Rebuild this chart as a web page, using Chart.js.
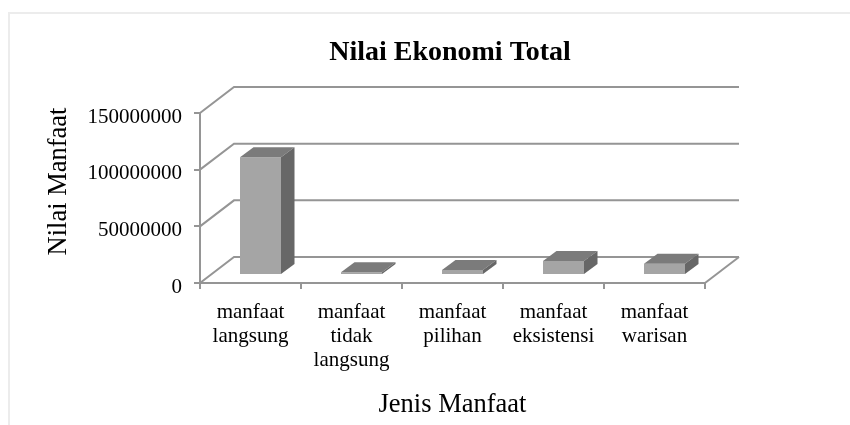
<!DOCTYPE html>
<html>
<head>
<meta charset="utf-8">
<script src="https://cdn.jsdelivr.net/npm/chart.js@4"></script>
<style>
  html, body { margin: 0; padding: 0; background: #fff; }
  #wrap { position: relative; width: 850px; height: 425px; overflow: hidden; }
  #frame { position: absolute; left: 8px; top: 12px; width: 900px; height: 500px; border: 2px solid #ececec; }
  canvas { position: absolute; left: 0; top: 0; }
</style>
</head>
<body>
<div id="wrap">
  <div id="frame"></div>
  <canvas id="chart" width="850" height="425"></canvas>
</div>
<script>
const categories = [
    ['manfaat', 'langsung'],
    ['manfaat', 'tidak', 'langsung'],
    ['manfaat', 'pilihan'],
    ['manfaat', 'eksistensi'],
    ['manfaat', 'warisan']
];
const nilaiManfaat = [104000000, 2400000, 4400000, 12400000, 10000000];
const yTicks = [0, 50000000, 100000000, 150000000];

const chartTitle = 'Nilai Ekonomi Total';
const xTitle = 'Jenis Manfaat';
const yTitle = 'Nilai Manfaat';

const serif = '"Liberation Serif", "Times New Roman", serif';
const lineColor = '#959595';

// depth of the fake 3D box
const wallDx = 34, wallDy = -26;
const barShiftX = 10, barShiftY = -8;
const barDx = 13.5, barDy = -10;

const fake3d = {
    id: 'fake3d',
    afterLayout(chart) {
        // title is a little left of the plot centre in the original
        chart.titleBlock.left -= 2.5;
        chart.titleBlock.right -= 2.5;
    },
    beforeDatasetsDraw(chart) {
        const { ctx, chartArea, scales } = chart;
        ctx.save();
        ctx.strokeStyle = lineColor;
        ctx.lineWidth = 2;
        // walls
        scales.y.ticks.forEach(t => {
            const y = scales.y.getPixelForValue(t.value);
            ctx.beginPath();
            ctx.moveTo(chartArea.left, y);
            ctx.lineTo(chartArea.left + wallDx, y + wallDy);
            ctx.lineTo(chartArea.right + wallDx, y + wallDy);
            ctx.stroke();
        });
        // floor right edge
        ctx.beginPath();
        ctx.moveTo(chartArea.right, chartArea.bottom);
        ctx.lineTo(chartArea.right + wallDx, chartArea.bottom + wallDy);
        ctx.stroke();
        ctx.restore();

        // bars are drawn by the library, just moved back off the front edge
        ctx.save();
        ctx.translate(barShiftX, barShiftY);
    },
    afterDatasetsDraw(chart) {
        const { ctx } = chart;
        chart.getDatasetMeta(0).data.forEach(bar => {
            const p = bar.getProps(['x', 'y', 'base', 'width'], true);
            const l = p.x - p.width / 2, r = p.x + p.width / 2;
            // top face
            ctx.fillStyle = '#7b7b7b';
            ctx.beginPath();
            ctx.moveTo(l, p.y);
            ctx.lineTo(l + barDx, p.y + barDy);
            ctx.lineTo(r + barDx, p.y + barDy);
            ctx.lineTo(r, p.y);
            ctx.closePath();
            ctx.fill();
            // side face
            ctx.fillStyle = '#676767';
            ctx.beginPath();
            ctx.moveTo(r, p.y);
            ctx.lineTo(r + barDx, p.y + barDy);
            ctx.lineTo(r + barDx, p.base + barDy);
            ctx.lineTo(r, p.base);
            ctx.closePath();
            ctx.fill();
        });
        ctx.restore();
    },
    afterDraw(chart) {
        // y title sits higher than the axis centre in the original
        const { ctx } = chart;
        ctx.save();
        ctx.translate(59, 181.5);
        ctx.rotate(-Math.PI / 2);
        ctx.font = '26.5px ' + serif;
        ctx.fillStyle = '#000';
        ctx.textAlign = 'center';
        ctx.textBaseline = 'middle';
        ctx.fillText(yTitle, 0, 0);
        ctx.restore();
    }
};

new Chart(document.getElementById('chart').getContext('2d'), {
    type: 'bar',
    data: {
        labels: categories,
        datasets: [{
            label: yTitle,
            data: nilaiManfaat,
            backgroundColor: '#a5a5a5',
            barPercentage: 0.406,
            categoryPercentage: 1
        }]
    },
    options: {
        responsive: false,
        animation: false,
        layout: { padding: { top: 0, right: 145, bottom: 0, left: 0 } },
        plugins: {
            legend: { display: false },
            tooltip: { enabled: false },
            title: {
                display: true,
                text: chartTitle,
                fullSize: false,
                color: '#000',
                font: { family: serif, size: 28, weight: 'bold' },
                padding: { top: 36, bottom: 43.4 }
            }
        },
        scales: {
            x: {
                grid: { drawOnChartArea: false, color: lineColor, lineWidth: 2, tickLength: 6 },
                border: { color: lineColor, width: 2 },
                ticks: { color: '#000', font: { family: serif, size: 21, lineHeight: 1.16 }, maxRotation: 0, autoSkip: false, padding: 11 },
                title: { display: true, text: xTitle, color: '#000', font: { family: serif, size: 26.5 }, padding: { top: 4, bottom: 4 } },
                afterFit(scale) { scale.height = 142; }
            },
            y: {
                min: 0,
                max: 150000000,
                afterBuildTicks(scale) { scale.ticks = yTicks.map(v => ({ value: v })); },
                grid: { drawOnChartArea: false, color: lineColor, lineWidth: 2, tickLength: 6 },
                border: { color: lineColor, width: 2 },
                ticks: { color: '#000', font: { family: serif, size: 21 }, padding: 12, labelOffset: 4, callback: v => String(v) },
                afterFit(scale) { scale.width = 200; }
            }
        }
    },
    plugins: [fake3d]
});
</script>
</body>
</html>
